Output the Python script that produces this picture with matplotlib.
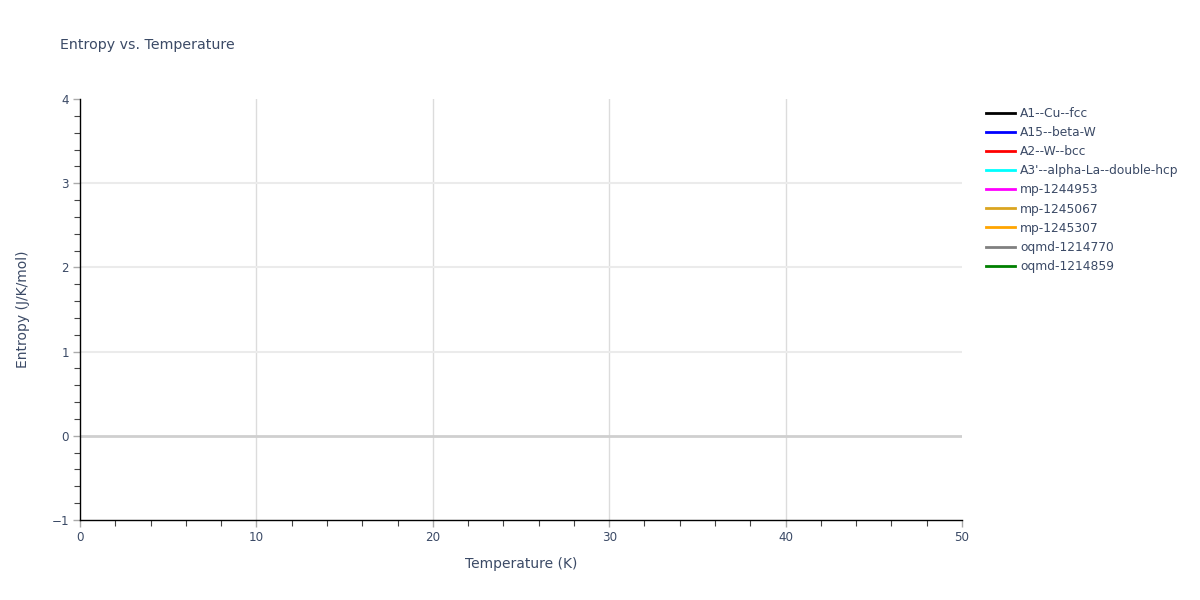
import numpy as np
import matplotlib.pyplot as plt
from matplotlib.ticker import MultipleLocator

# no data points are visible in the reference: every series is empty
series_names = ['A1--Cu--fcc', 'A15--beta-W', 'A2--W--bcc', "A3'--alpha-La--double-hcp",
                'mp-1244953', 'mp-1245067', 'mp-1245307', 'oqmd-1214770', 'oqmd-1214859']
series_colors = ['black', 'blue', 'red', 'cyan', 'magenta', 'goldenrod', 'orange', 'gray', 'green']
temperature = [[] for _ in series_names]
entropy = [[] for _ in series_names]

x_ticks = [0, 10, 20, 30, 40, 50]
y_ticks = [-1, 0, 1, 2, 3, 4]


def main():
    plt.rcParams['font.family'] = ['DejaVu Sans']
    text_color = '#3b4a66'

    fig = plt.figure(figsize=(12, 6), dpi=100)
    ax = fig.add_axes([80 / 1200, 80 / 600, 882 / 1200, 421 / 600])

    for t, s, name, c in zip(temperature, entropy, series_names, series_colors):
        ax.plot(t, s, color=c, lw=2, label=name)

    ax.set_xlim(0, 50)
    ax.set_ylim(-1, 4)
    ax.set_xticks(x_ticks)
    ax.set_yticks(y_ticks)
    ax.xaxis.set_minor_locator(MultipleLocator(2))
    ax.yaxis.set_minor_locator(MultipleLocator(0.2))
    ax.tick_params(which='major', direction='out', length=5, width=1, color='#aaaaaa',
                   labelsize=8.6, labelcolor=text_color, pad=3)
    ax.tick_params(which='minor', direction='out', length=4, width=0.8, color='#444444')

    # interior grid lines only (none at the plot edges)
    for xv in x_ticks[1:-1]:
        ax.axvline(xv, color='#dcdcdc', lw=1, zorder=0)
    for yv in y_ticks[2:-1]:
        ax.axhline(yv, color='#ebebeb', lw=1.5, zorder=0)
    ax.axhline(0, color='#cfcfcf', lw=2, zorder=1)

    for side in ['top', 'right']:
        ax.spines[side].set_visible(False)
    for side in ['left', 'bottom']:
        ax.spines[side].set_color('#000000')
        ax.spines[side].set_linewidth(1)

    ax.set_xlabel('Temperature (K)', fontsize=10, color=text_color, labelpad=9)
    ax.set_ylabel('Entropy (J/K/mol)', fontsize=10, color=text_color, labelpad=15)
    fig.text(60 / 1200, 1 - 45 / 600, 'Entropy vs. Temperature', fontsize=10.2,
             color=text_color, va='center', ha='left')

    leg = ax.legend(loc='upper left', bbox_to_anchor=(986 / 1200, 1 - 107 / 600),
                    bbox_transform=fig.transFigure, frameon=False, fontsize=8.8,
                    handlelength=2.4, handletextpad=0.4, labelspacing=0.5,
                    borderaxespad=0, borderpad=0)
    for txt in leg.get_texts():
        txt.set_color(text_color)

    plt.savefig('out.png', dpi=100)
    plt.close()


if __name__ == '__main__':
    main()
